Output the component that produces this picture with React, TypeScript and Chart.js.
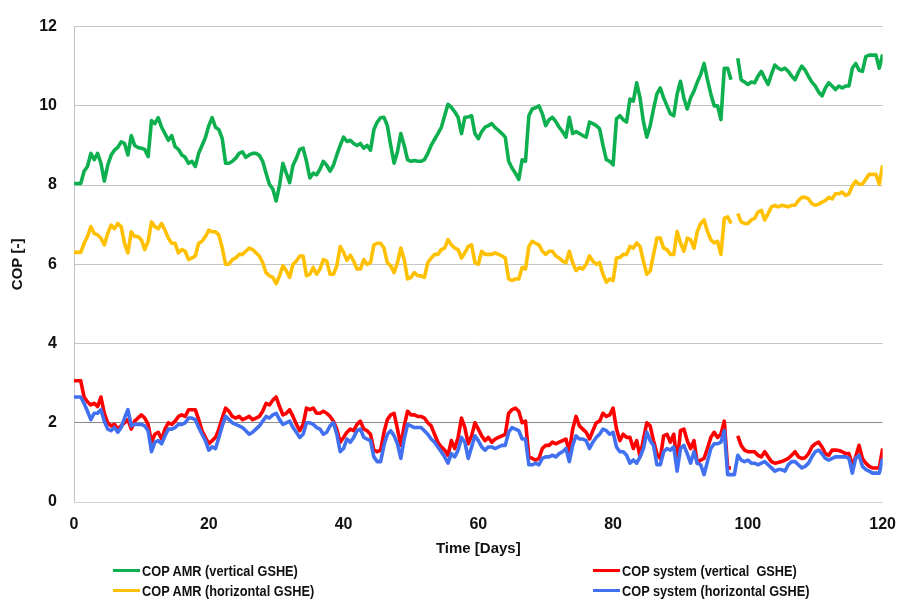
import React, { useEffect, useRef } from "react";
import { Chart, registerables } from "chart.js";

Chart.register(...registerables);

// Time axis: half-day sampling, 0 .. 120 days
const days: number[] = Array.from({ length: 241 }, (_, i) => i / 2);

const seriesLabels = [
  "COP AMR (vertical GSHE)",
  "COP system (vertical  GSHE)",
  "COP AMR (horizontal GSHE)",
  "COP system (horizontal GSHE)",
];
const seriesColors = ["#0DAF4F", "#FF0000", "#FFC000", "#4170F0"];

const xTickValues = [0, 20, 40, 60, 80, 100, 120];
const yTickValues = [0, 2, 4, 6, 8, 10, 12];

const copAmrVertical: (number | null)[] = [
  8.04, 8.04, 8.04, 8.35, 8.47, 8.8, 8.64, 8.8, 8.55, 8.1, 8.5, 8.75, 8.88, 8.95, 9.09, 9.05, 8.76, 9.25, 9.0, 8.95,
  8.93, 8.9, 8.72, 9.63, 9.55, 9.7, 9.46, 9.3, 9.13, 9.25, 8.97, 8.9, 8.76, 8.7, 8.55, 8.6, 8.47, 8.8, 9.0, 9.2,
  9.5, 9.7, 9.46, 9.4, 9.17, 8.55, 8.55, 8.6, 8.68, 8.8, 8.84, 8.7, 8.76, 8.8, 8.8, 8.75, 8.6, 8.3, 8.02, 7.9,
  7.6, 8.0, 8.55, 8.3, 8.06, 8.5, 8.68, 8.9, 8.93, 8.6, 8.18, 8.3, 8.26, 8.4, 8.6, 8.5, 8.35, 8.5, 8.76, 9.0,
  9.21, 9.1, 9.13, 9.05, 9.0, 9.05, 8.93, 9.0, 8.88, 9.4, 9.59, 9.7, 9.71, 9.5, 9.0, 8.55, 8.84, 9.3, 9.0, 8.64,
  8.6, 8.62, 8.6, 8.6, 8.64, 8.8, 9.0, 9.15, 9.3, 9.45, 9.75, 10.04, 9.96, 9.85, 9.71, 9.3, 9.71, 9.72, 9.75, 9.3,
  9.17, 9.35, 9.46, 9.5, 9.55, 9.45, 9.38, 9.3, 9.21, 8.6, 8.43, 8.3, 8.14, 8.64, 8.6, 9.75, 9.92, 9.95, 10.0, 9.8,
  9.5, 9.65, 9.71, 9.6, 9.46, 9.35, 9.21, 9.71, 9.3, 9.35, 9.3, 9.25, 9.21, 9.59, 9.55, 9.5, 9.42, 9.0, 8.64, 8.6,
  8.51, 9.67, 9.75, 9.65, 9.59, 10.17, 10.12, 10.58, 10.2, 9.6, 9.21, 9.5, 9.92, 10.3, 10.45, 10.2, 10.0, 9.8, 9.75, 10.3,
  10.62, 10.2, 9.92, 10.2, 10.37, 10.6, 10.79, 11.07, 10.66, 10.3, 10.0, 10.0, 9.65, 10.95, 10.95, 10.66, null, 11.2, 10.66, 10.6,
  10.54, 10.6, 10.58, 10.75, 10.87, 10.7, 10.54, 10.8, 11.03, 10.95, 10.91, 10.95, 10.87, 10.75, 10.66, 10.85, 11.0, 10.9, 10.74, 10.6,
  10.5, 10.35, 10.25, 10.45, 10.58, 10.5, 10.41, 10.5, 10.45, 10.5, 10.5, 10.95, 11.07, 10.9, 10.87, 11.24, 11.28, 11.28, 11.28, 10.95,
  11.3,
];

const copAmrHorizontal: (number | null)[] = [
  6.3, 6.3, 6.3, 6.53, 6.7, 6.95, 6.78, 6.74, 6.66, 6.49, 6.78, 6.99, 6.9, 7.03, 6.95, 6.53, 6.29, 6.82, 6.7, 6.7,
  6.62, 6.37, 6.58, 7.07, 6.95, 6.9, 7.03, 6.86, 6.66, 6.53, 6.53, 6.29, 6.37, 6.33, 6.12, 6.16, 6.21, 6.53, 6.58, 6.7,
  6.86, 6.82, 6.82, 6.74, 6.41, 6.0, 6.0, 6.12, 6.16, 6.25, 6.25, 6.33, 6.41, 6.37, 6.29, 6.21, 6.04, 5.79, 5.71, 5.67,
  5.51, 5.71, 5.96, 5.84, 5.67, 6.0, 6.08, 6.21, 6.21, 5.71, 5.75, 5.92, 5.75, 5.88, 6.12, 6.08, 5.75, 5.75, 5.96, 6.45,
  6.3, 6.1, 6.23, 6.08, 5.88, 5.88, 6.12, 6.0, 6.04, 6.49, 6.53, 6.53, 6.41, 6.04, 5.96, 5.79, 6.04, 6.41, 6.12, 5.63,
  5.67, 5.79, 5.71, 5.71, 5.67, 6.04, 6.16, 6.25, 6.25, 6.37, 6.41, 6.62, 6.49, 6.41, 6.37, 6.16, 6.29, 6.45, 6.49, 6.04,
  6.0, 6.33, 6.25, 6.25, 6.25, 6.29, 6.25, 6.21, 6.16, 5.63, 5.59, 5.63, 5.63, 5.92, 5.88, 6.45, 6.58, 6.53, 6.49, 6.33,
  6.25, 6.33, 6.33, 6.21, 6.16, 6.08, 6.04, 6.33, 6.04, 5.84, 5.92, 5.88, 6.0, 6.21, 6.08, 6.0, 6.04, 5.75, 5.55, 5.63,
  5.59, 6.16, 6.17, 6.25, 6.25, 6.45, 6.41, 6.54, 6.45, 6.08, 5.75, 5.83, 6.25, 6.66, 6.66, 6.41, 6.37, 6.25, 6.25, 6.83,
  6.54, 6.33, 6.66, 6.62, 6.41, 6.83, 7.03, 7.12, 6.83, 6.62, 6.54, 6.58, 6.25, 7.16, 7.2, 7.03, null, 7.28, 7.07, 7.03,
  7.03, 7.12, 7.16, 7.32, 7.36, 7.12, 7.28, 7.45, 7.49, 7.45, 7.49, 7.47, 7.45, 7.49, 7.49, 7.61, 7.69, 7.69, 7.65, 7.53,
  7.49, 7.52, 7.57, 7.61, 7.69, 7.65, 7.78, 7.78, 7.82, 7.74, 7.78, 7.98, 8.1, 8.02, 8.02, 8.15, 8.27, 8.27, 8.27, 8.02,
  8.5,
];

const copSystemVertical: (number | null)[] = [
  3.06, 3.06, 3.06, 2.65, 2.53, 2.45, 2.49, 2.41, 2.65, 2.24, 2.0, 1.92, 1.96, 1.84, 1.92, 2.0, 2.08, 1.84, 2.04, 2.12,
  2.2, 2.12, 1.96, 1.51, 1.71, 1.76, 1.59, 1.84, 2.0, 1.96, 2.04, 2.16, 2.2, 2.16, 2.33, 2.33, 2.33, 2.08, 1.8, 1.63,
  1.47, 1.55, 1.63, 1.84, 2.12, 2.37, 2.29, 2.16, 2.12, 2.16, 2.08, 2.12, 2.16, 2.08, 2.12, 2.16, 2.29, 2.49, 2.45, 2.57,
  2.65, 2.41, 2.2, 2.24, 2.33, 2.16, 1.96, 1.8, 1.96, 2.37, 2.33, 2.37, 2.24, 2.24, 2.29, 2.24, 2.16, 2.04, 1.84, 1.51,
  1.63, 1.76, 1.84, 1.8, 1.96, 2.04, 1.84, 1.8, 1.71, 1.31, 1.27, 1.31, 1.76, 2.08, 2.2, 2.24, 1.84, 1.43, 1.92, 2.29,
  2.2, 2.2, 2.16, 2.16, 2.12, 2.0, 1.92, 1.71, 1.51, 1.39, 1.31, 1.18, 1.55, 1.35, 1.63, 2.12, 1.88, 1.47, 1.67, 2.0,
  1.84, 1.67, 1.55, 1.63, 1.51, 1.59, 1.63, 1.67, 1.71, 2.24, 2.33, 2.37, 2.29, 2.0, 2.04, 1.14, 1.1, 1.06, 1.1, 1.35,
  1.43, 1.43, 1.51, 1.47, 1.51, 1.55, 1.59, 1.27, 1.84, 2.16, 1.92, 1.84, 1.76, 1.59, 1.8, 2.0, 2.04, 2.24, 2.16, 2.2,
  2.37, 1.84, 1.55, 1.71, 1.63, 1.63, 1.35, 1.55, 1.14, 1.59, 2.0, 1.92, 1.55, 1.22, 1.1, 1.67, 1.71, 1.51, 1.71, 0.98,
  1.8, 1.84, 1.55, 1.35, 1.55, 0.98, 1.06, 1.1, 1.35, 1.63, 1.76, 1.63, 1.71, 2.04, 0.86, 0.86, null, 1.67, 1.43, 1.31,
  1.27, 1.27, 1.27, 1.18, 1.14, 1.27, 1.14, 1.02, 0.98, 1.0, 1.02, 1.06, 1.1, 1.18, 1.27, 1.14, 1.1, 1.12, 1.22, 1.39,
  1.47, 1.51, 1.39, 1.22, 1.18, 1.31, 1.31, 1.3, 1.27, 1.22, 1.22, 0.94, 1.14, 1.43, 1.1, 0.98, 0.9, 0.86, 0.86, 0.86,
  1.35,
];

const copSystemHorizontal: (number | null)[] = [
  2.65, 2.65, 2.65, 2.49, 2.29, 2.08, 2.24, 2.24, 2.33, 2.04, 1.84, 1.8, 1.88, 1.76, 1.88, 2.12, 2.33, 1.92, 1.96, 1.96,
  1.96, 1.92, 1.8, 1.27, 1.51, 1.55, 1.47, 1.67, 1.84, 1.84, 1.88, 1.96, 1.96, 2.0, 2.12, 2.12, 2.08, 1.88, 1.71, 1.55,
  1.31, 1.39, 1.35, 1.63, 1.92, 2.16, 2.08, 2.0, 1.96, 1.92, 1.88, 1.8, 1.71, 1.76, 1.84, 1.92, 2.04, 2.16, 2.12, 2.2,
  2.24, 2.08, 1.96, 2.0, 2.04, 1.88, 1.76, 1.63, 1.71, 2.0, 2.0, 1.96, 1.88, 1.84, 1.71, 1.76, 1.92, 2.0, 1.71, 1.27,
  1.35, 1.59, 1.51, 1.63, 1.8, 1.84, 1.63, 1.59, 1.55, 1.14, 1.02, 1.02, 1.43, 1.71, 1.8, 1.67, 1.47, 1.1, 1.59, 1.96,
  1.92, 1.88, 1.88, 1.88, 1.8, 1.71, 1.59, 1.51, 1.39, 1.27, 1.14, 0.98, 1.22, 1.14, 1.31, 1.63, 1.51, 1.1, 1.39, 1.67,
  1.55, 1.39, 1.31, 1.39, 1.39, 1.35, 1.39, 1.43, 1.43, 1.76, 1.88, 1.84, 1.8, 1.59, 1.59, 0.94, 0.94, 0.98, 0.94, 1.1,
  1.14, 1.14, 1.18, 1.14, 1.22, 1.27, 1.35, 1.02, 1.43, 1.67, 1.59, 1.59, 1.55, 1.35, 1.51, 1.63, 1.71, 1.84, 1.8, 1.71,
  1.76, 1.39, 1.27, 1.27, 1.18, 0.98, 1.06, 0.98, 1.14, 1.35, 1.76, 1.55, 1.43, 0.94, 0.94, 1.27, 1.35, 1.31, 1.39, 0.78,
  1.35, 1.43, 1.22, 0.98, 1.27, 0.98, 0.94, 0.69, 1.02, 1.35, 1.47, 1.47, 1.51, 1.8, 0.69, 0.69, 0.69, 1.18, 1.06, 1.02,
  1.06, 0.98, 0.98, 0.94, 0.98, 1.02, 0.94, 0.86, 0.78, 0.82, 0.82, 0.78, 0.94, 1.02, 1.02, 0.94, 0.86, 0.9, 0.98, 1.14,
  1.27, 1.31, 1.22, 1.1, 1.06, 1.1, 1.14, 1.14, 1.14, 1.14, 1.1, 0.73, 1.1, 1.18, 0.9, 0.82, 0.78, 0.73, 0.73, 0.73,
  1.1,
];

const seriesValues = [copAmrVertical, copSystemVertical, copAmrHorizontal, copSystemHorizontal];
const drawOrder = [3, 2, 1, 0];

const AXIS_FONT = "'Liberation Sans', Arial, sans-serif";

export default function App() {
  const canvasRef = useRef<HTMLCanvasElement | null>(null);

  useEffect(() => {
    const canvas = canvasRef.current;
    if (!canvas) return;
    const chart = new Chart(canvas, {
      type: "line",
      data: {
        datasets: seriesLabels.map((label, k) => ({
          label,
          data: days.map((d, i) => ({ x: d, y: seriesValues[k][i] as any })),
          borderColor: seriesColors[k],
          backgroundColor: seriesColors[k],
          borderWidth: 3.6,
          pointRadius: 0,
          tension: 0,
          spanGaps: false,
          order: drawOrder[k],
          borderJoinStyle: "round" as const,
        })),
      },
      options: {
        animation: false,
        responsive: false,
        maintainAspectRatio: false,
        layout: { padding: { left: 0, right: 19, top: 15, bottom: 41 } },
        plugins: {
          legend: { display: false },
          tooltip: { enabled: false },
        },
        scales: {
          x: {
            type: "linear",
            min: 0,
            max: 120,
            afterBuildTicks: (s: any) => {
              s.ticks = xTickValues.map((v) => ({ value: v }));
            },
            afterFit: (s: any) => {
              s.height = 56;
            },
            grid: { display: false, drawTicks: false },
            border: { display: true, color: "#d4d4d4", width: 1 },
            ticks: {
              padding: 13,
              color: "#111",
              font: { family: AXIS_FONT, size: 16, weight: "bold" },
              maxRotation: 0,
            },
            title: {
              display: true,
              text: "Time [Days]",
              color: "#111",
              padding: { top: 0, bottom: 0 },
              font: { family: AXIS_FONT, size: 15, weight: "bold" },
            },
          },
          y: {
            type: "linear",
            min: 0,
            max: 12,
            afterBuildTicks: (s: any) => {
              s.ticks = yTickValues.map((v) => ({ value: v }));
            },
            afterFit: (s: any) => {
              s.width = 74;
            },
            grid: {
              drawTicks: false,
              color: (ctx: any) =>
                ctx.tick && ctx.tick.value === 2 ? "#8a8a8a" : ctx.tick && ctx.tick.value === 0 ? "#d4d4d4" : "#c4c4c4",
              lineWidth: 1,
            },
            border: { display: true, color: "#c4c4c4", width: 1 },
            ticks: {
              padding: 17,
              color: "#111",
              font: { family: AXIS_FONT, size: 16, weight: "bold" },
            },
            title: {
              display: true,
              text: "COP [-]",
              color: "#111",
              padding: { top: 9, bottom: 0 },
              font: { family: AXIS_FONT, size: 15, weight: "bold" },
            },
          },
        },
      },
    });
    return () => chart.destroy();
  }, []);

  const legendPos = [
    { left: 113, top: 570 },
    { left: 593, top: 570 },
    { left: 113, top: 590 },
    { left: 593, top: 590 },
  ];

  return (
    <div style={{ position: "absolute", left: 0, top: 0, width: 909, height: 599, background: "#fff" }}>
      <canvas ref={canvasRef} width={909} height={599} style={{ display: "block", width: 909, height: 599 }} />
      {seriesLabels.map((label, k) => (
        <div
          key={label}
          style={{
            position: "absolute",
            left: legendPos[k].left,
            top: legendPos[k].top - 10,
            height: 20,
            display: "flex",
            alignItems: "center",
            fontFamily: AXIS_FONT,
            fontWeight: "bold",
            fontSize: 15,
            color: "#111",
            whiteSpace: "pre",
          }}
        >
          <span style={{ display: "inline-block", width: 27, height: 3, background: seriesColors[k], marginRight: 2 }} />
          <span style={{ display: "inline-block", transform: "scaleX(0.85)", transformOrigin: "left center" }}>
            {label}
          </span>
        </div>
      ))}
    </div>
  );
}
